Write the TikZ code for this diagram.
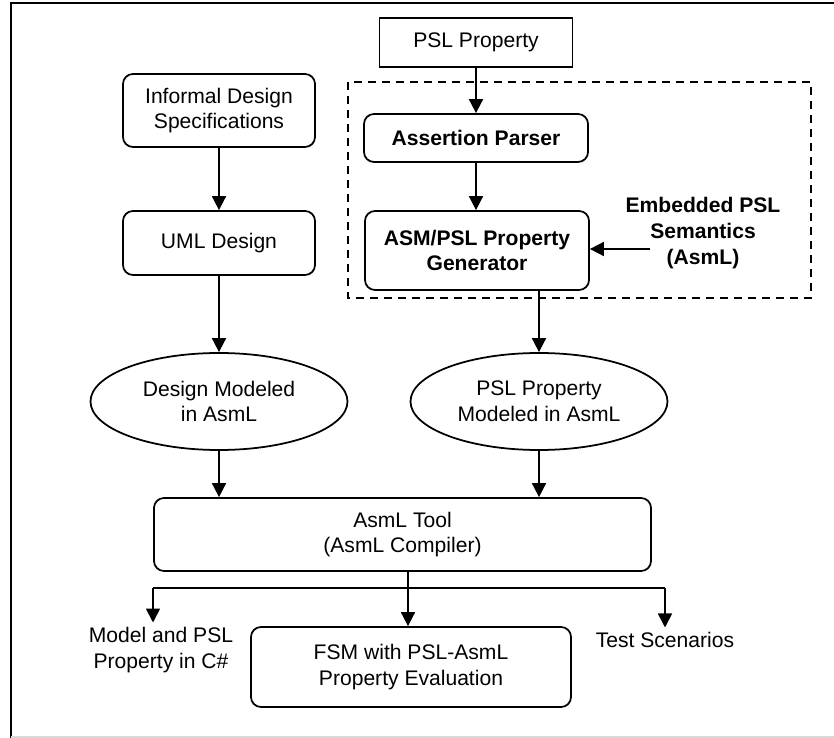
\documentclass[tikz,border=0pt]{standalone}
\usepackage{fontspec}
\setmainfont{Liberation Sans}
\usetikzlibrary{arrows.meta,shapes.geometric}
\begin{document}
\begin{tikzpicture}[x=0.03cm, y=-0.03cm, line width=1.5pt,
    every node/.style={font=\fontsize{18}{22}\selectfont, align=center},
    boldtext/.style={font=\fontsize{18}{22}\selectfont\bfseries},
    >={Triangle[length=4.2mm, width=4.2mm]},
    plainbox/.style={draw, inner sep=0pt},
    rbox/.style={draw, rounded corners=3mm, inner sep=0pt},
    oval/.style={draw, ellipse, inner sep=0pt}]
    \useasboundingbox (0,0) rectangle (834,738);
    \draw[line width=1.7pt] (11,738) -- (11,3) -- (834,3);
    \draw[black!15, line width=1pt] (11,737) -- (834,737);
    \draw[dashed, dash pattern=on 2.4mm off 1.8mm, line width=1.2pt] (348,82) rectangle (811,298);
    \node[plainbox, minimum width=5.79cm, minimum height=1.47cm] (psl) at (476,42.5) {PSL Property};
    \node[rbox, boldtext, minimum width=6.72cm, minimum height=1.44cm] (parser) at (476,138) {Assertion Parser};
    \node[rbox, boldtext, minimum width=6.72cm, minimum height=2.37cm] (gen) at (477,250.5) {ASM/PSL Property\\Generator};
    \node[boldtext] (sem) at (703,233) {Embedded PSL\\Semantics\\(AsmL)};
    \node[rbox, minimum width=5.76cm, minimum height=2.19cm] (informal) at (219,110.5) {Informal Design\\Specifications};
    \node[rbox, minimum width=5.76cm, minimum height=1.92cm] (uml) at (219,243) {UML Design};
    \node[oval, minimum width=7.71cm, minimum height=2.91cm] (dm) at (219,401.5) {Design Modeled\\in AsmL};
    \node[oval, minimum width=7.71cm, minimum height=2.91cm] (pm) at (539,401.5) {PSL Property\\Modeled in AsmL};
    \node[rbox, minimum width=14.91cm, minimum height=2.19cm] (tool) at (402.5,534.5) {AsmL Tool\\(AsmL Compiler)};
    \node (csharp) at (161,650) {Model and PSL\\Property in C\#};
    \node[rbox, minimum width=9.6cm, minimum height=2.4cm] (fsm) at (411,667) {FSM with PSL-AsmL\\Property Evaluation};
    \node (test) at (665,640) {Test Scenarios};
    \coordinate (semin) at (650,249);
    \coordinate (fork) at (408,588);
    \coordinate (busl) at (153,588);
    \coordinate (busr) at (665,588);
    \draw[->] (psl) -- (parser);
    \draw[->] (parser) -- (parser |- gen.north);
    \draw[->] (semin) -- (semin -| gen.east);
    \draw[->] (gen.south -| pm.north) -- (pm.north);
    \draw[->] (informal) -- (uml);
    \draw[->] (uml) -- (dm);
    \draw[->] (dm.south) -- (dm.south |- tool.north);
    \draw[->] (pm.south) -- (pm.south |- tool.north);
    \draw (tool.south -| fork) -- (fork);
    \draw (busl) -- (busr);
    \draw[->] (busl) -- (busl |- csharp.north);
    \draw[->] (fork) -- (fork |- fsm.north);
    \draw[->] (busr) -- (busr |- test.north);
\end{tikzpicture}
\end{document}
